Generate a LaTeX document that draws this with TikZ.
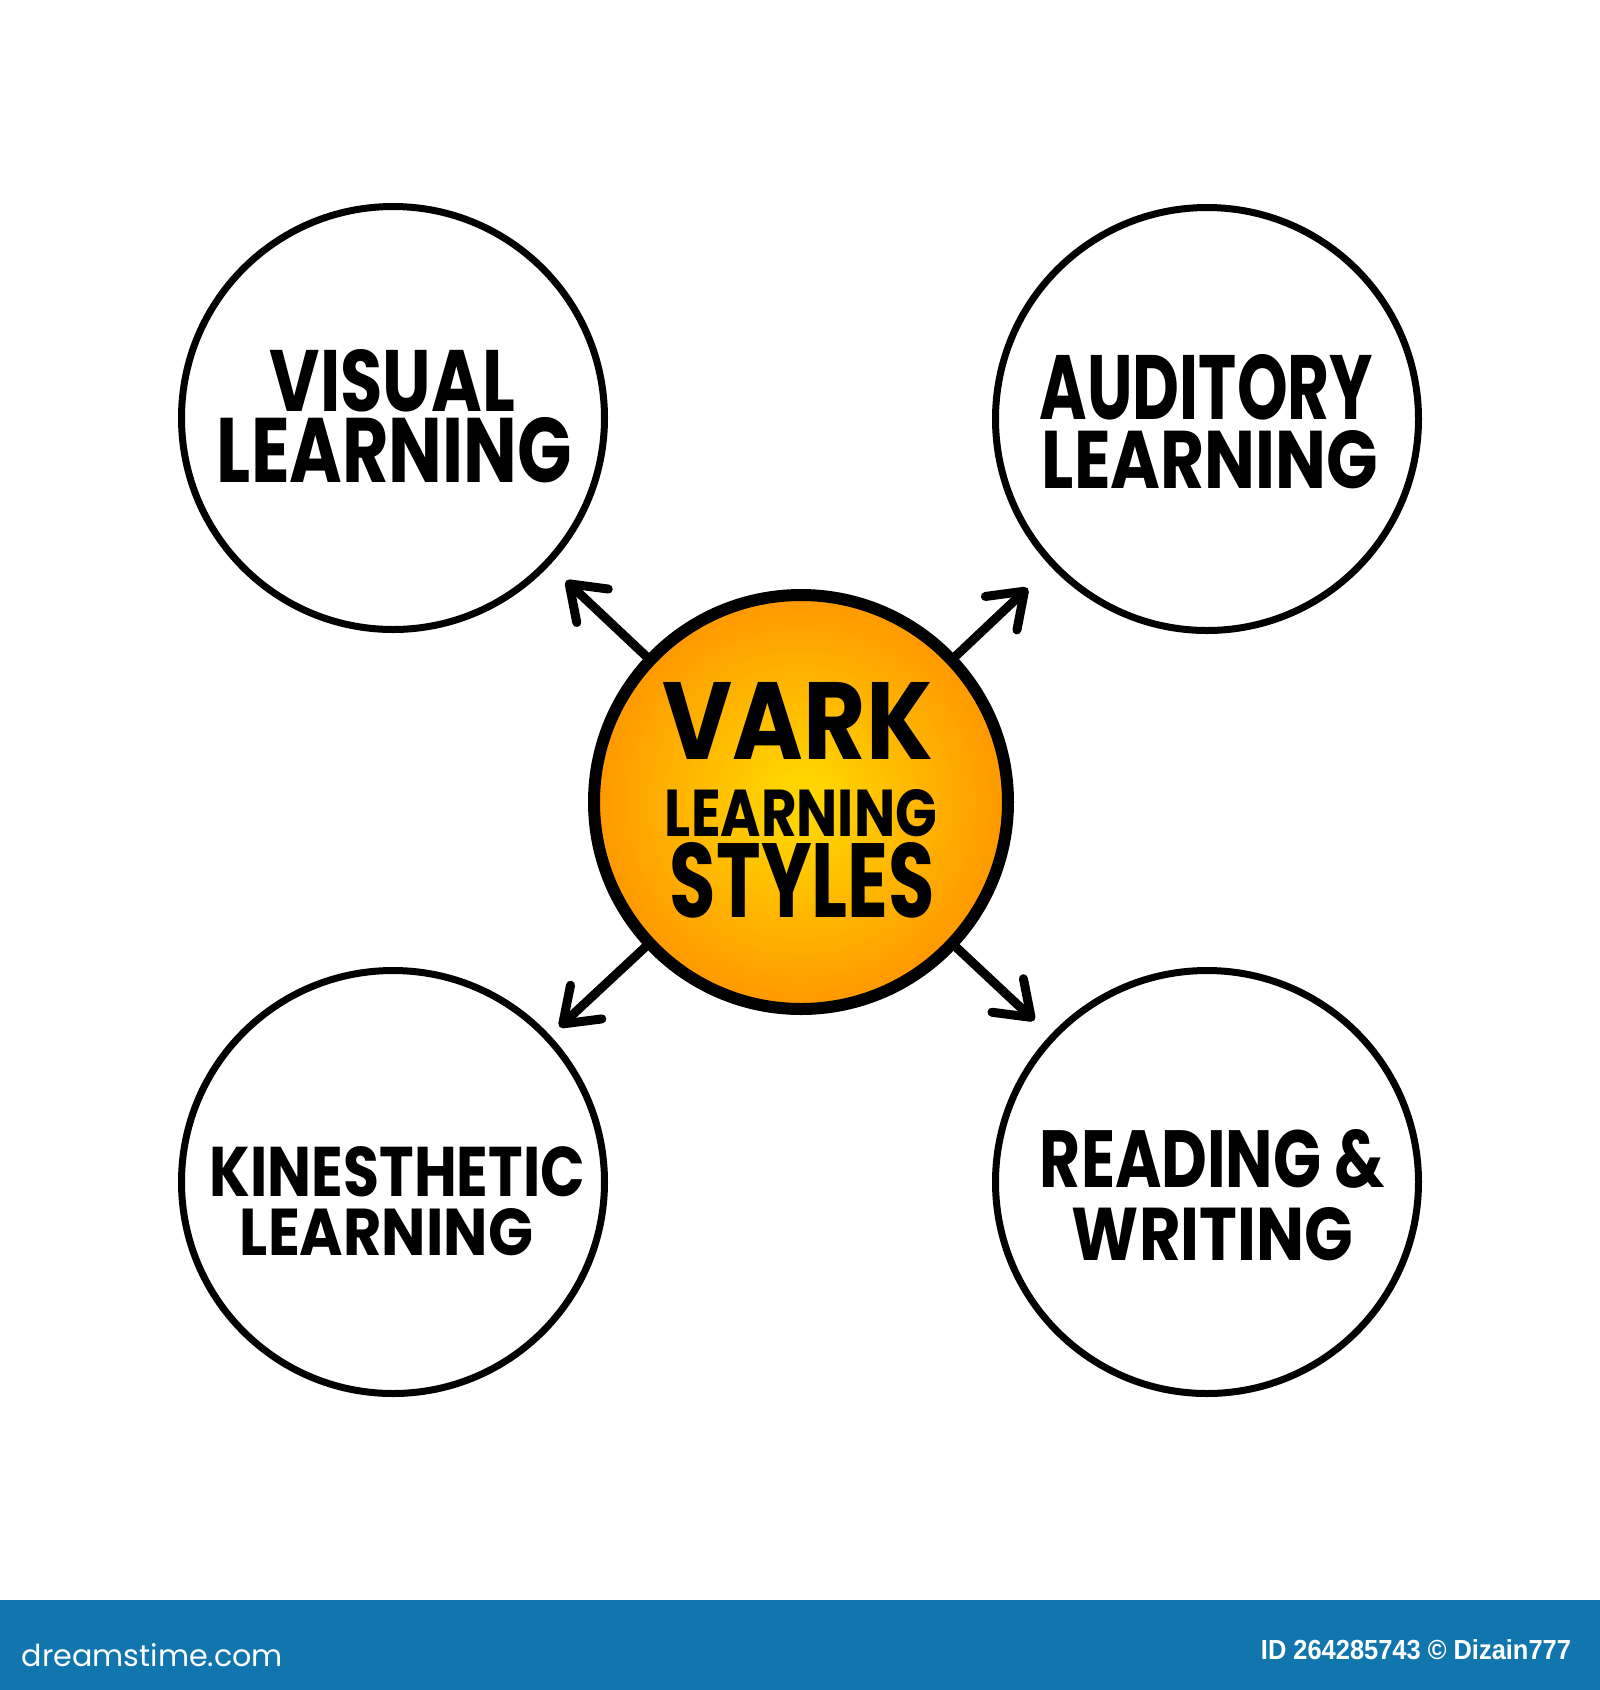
\documentclass[tikz,border=0pt]{standalone}
\usepackage{fontspec}
\usepackage{graphicx}
\setmainfont{Liberation Sans}
\newfontfamily\hand{Poppins}
\newfontfamily\logofont{Poppins}
\usetikzlibrary{arrows.meta}
\definecolor{barblue}{RGB}{17,118,174}
\definecolor{coreyellow}{RGB}{255,212,0}
\definecolor{coreorange}{RGB}{255,152,0}
\pgfdeclareradialshading{coreshade}{\pgfpoint{0bp}{0bp}}{color(0bp)=(coreyellow); color(3bp)=(coreyellow); color(25bp)=(coreorange); color(50bp)=(coreorange)}
\newcommand{\fitlbl}[3]{\resizebox{#1pt}{#2pt}{\hand\bfseries #3}}
\tikzset{
  ring/.style={circle, draw=black, line width=7pt, minimum size=423pt, inner sep=0pt, outer sep=0pt},
  core/.style={circle, draw=black, line width=12pt, minimum size=414pt, inner sep=0pt, outer sep=0pt, shading=coreshade},
  txt/.style={inner sep=0pt, outer sep=0pt, anchor=center, text=black, align=center},
  arr/.style={line width=9pt, line cap=round, -{Straight Barb[length=32pt,width=46pt,round]}},
  bartxt/.style={inner sep=0pt, outer sep=0pt, text=white}
}
\begin{document}
\begin{tikzpicture}[x=1pt,y=-1pt]
\useasboundingbox (0,0) rectangle (1600,1690);
\fill[white] (0,0) rectangle (1600,1690);
\fill[barblue] (0,1600) rectangle (1600,1690);

% circles
\node[ring] (v) at (393,418) {};
\node[ring] (a) at (1207,419) {};
\node[ring] (k) at (393,1182) {};
\node[ring] (r) at (1207,1182) {};
\node[core] (c) at (801,802) {};

% arrows
\draw[arr, shorten >=26pt] (c) -- (v);
\draw[arr, shorten >=35pt] (c) -- (a);
\draw[arr, shorten >=16pt] (c) -- (k);
\draw[arr, shorten >=25pt] (c) -- (r);

% labels
\node[txt] (vt) at (394.5,416) {\fitlbl{245}{62}{VISUAL}\kern4pt\\[4pt]\fitlbl{355}{65}{LEARNING}};
\node[txt] (at) at (1210,421.5) {\fitlbl{333}{65}{AUDITORY}\kern7pt\\[9pt]\fitlbl{336}{58}{LEARNING}};
\node[txt] (kt) at (397.5,1201) {\fitlbl{375}{50}{KINESTHETIC}\\[10pt]\fitlbl{293}{47}{LEARNING}\kern22pt};
\node[txt] (rt) at (1212.5,1195) {\fitlbl{345}{58}{READING \&}\\[18pt]\fitlbl{281}{53}{WRITING}};
\node[txt] (ct) at (801,800.5) {\fitlbl{270}{77}{VARK}\kern6pt\\[29pt]\fitlbl{272}{47}{LEARNING}\\[5pt]\fitlbl{265}{75}{STYLES}\kern-3pt};

% footer bar
\node[bartxt, anchor=base west] (logo) at (22,1666) {\resizebox{261pt}{!}{\logofont dreamstime.com}};
\node[bartxt, anchor=east] (idtxt) at (1571,1650) {\resizebox{310pt}{20pt}{\bfseries ID 264285743 © Dizain777}};
\end{tikzpicture}
\end{document}
